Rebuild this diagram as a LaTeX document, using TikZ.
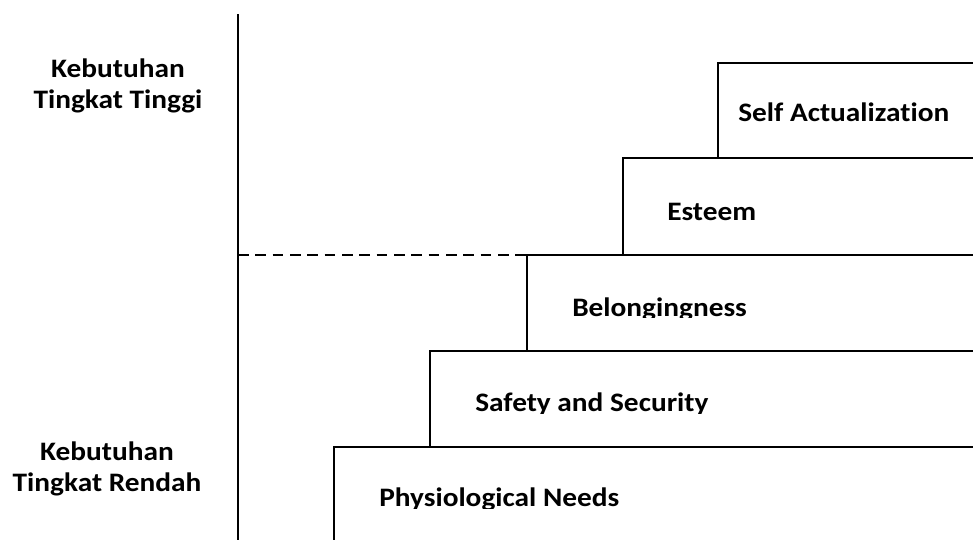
\documentclass[tikz,border=0pt]{standalone}
\usepackage{fontspec}
\setmainfont[FakeStretch=1.10,Ligatures={NoCommon}]{Carlito}
\begin{document}
\begin{tikzpicture}[x=0.75pt,y=-0.75pt,
  lbl/.style={font=\bfseries\fontsize{20}{24}\selectfont, inner sep=0pt},
  stepline/.style={line width=2pt, line join=miter},
  divider/.style={line width=2pt, dashed, dash pattern=on 8pt off 5pt}]
\useasboundingbox (0,0) rectangle (973,539);

% axis
\coordinate (axtop) at (238,14);
\coordinate (axbot) at (238,545);
\draw[stepline] (axtop) -- (axbot);

% steps (corners)
\coordinate (p1) at (334,447);
\coordinate (p2) at (430,351);
\coordinate (p3) at (527,255);
\coordinate (p4) at (623,158);
\coordinate (p5) at (718,63);
\coordinate (edge) at (980,0);

\draw[stepline] (334,545) -- (p1) -- (p1 -| edge);
\draw[stepline] (p2 |- p1) -- (p2) -- (p2 -| edge);
\draw[stepline] (p3 |- p2) -- (p3) -- (p3 -| edge);
\draw[stepline] (p4 |- p3) -- (p4) -- (p4 -| edge);
\draw[stepline] (p5 |- p4) -- (p5) -- (p5 -| edge);

% dashed divider
\coordinate (dstart) at (axtop |- p3);
\draw[divider] (dstart) -- (p3);

% step labels
\node[lbl, anchor=base west] (self) at (738,121.7) {Self Actualization};
\node[lbl, anchor=base west] (est) at (667,220) {Esteem};
\begin{scope}
  \clip (0,0) rectangle (973,317);
  \node[lbl, anchor=base west] (bel) at (572,316) {Belongingness};
\end{scope}
\begin{scope}
  \clip (0,0) rectangle (973,413);
  \node[lbl, anchor=base west] (saf) at (475,411.7) {Safety and Security};
\end{scope}
\begin{scope}
  \clip (0,0) rectangle (973,508);
  \node[lbl, anchor=base west] (phy) at (379,506.7) {Physiological Needs};
\end{scope}

% side labels
\node[lbl, anchor=base] (hiA) at (118,77.7) {Kebutuhan};
\node[lbl, anchor=base] (hiB) at (118,108.3) {Tingkat Tinggi};
\node[lbl, anchor=base] (loA) at (107,460.7) {Kebutuhan};
\node[lbl, anchor=base] (loB) at (107,491.7) {Tingkat Rendah};
\end{tikzpicture}
\end{document}
